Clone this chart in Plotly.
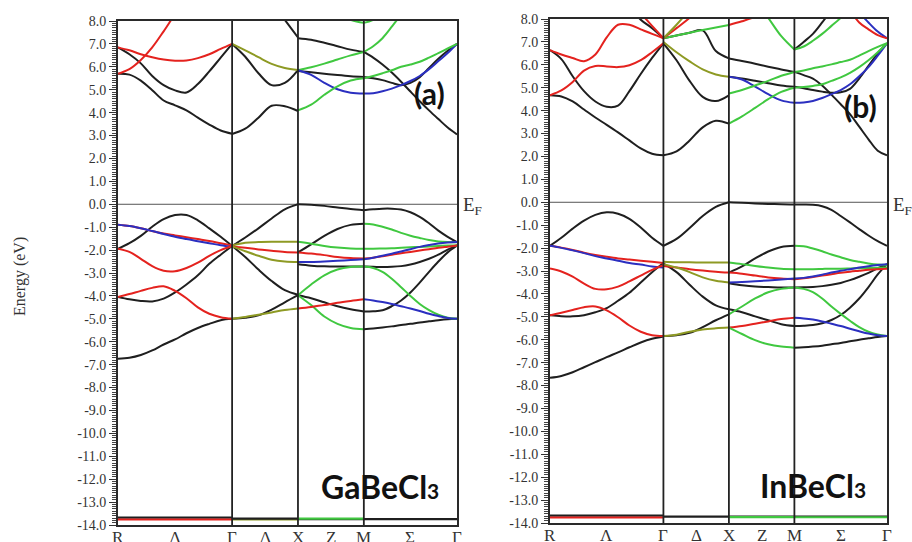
import plotly.graph_objects as go

# ---------------- k-path (cubic BZ) ----------------
SEG_NAMES = ["RG", "GX", "XM", "MG"]
SEG_LEN = {"RG": 3 ** 0.5, "GX": 1.0, "XM": 1.0, "MG": 2 ** 0.5}
K_LABELS = ["R", "Λ", "Γ", "Δ", "X", "Z", "M", "Σ", "Γ"]
FRAC_LONG = [0.0, 0.1, 0.2, 0.3, 0.4, 0.5, 0.6, 0.7, 0.8, 0.9, 1.0]
FRAC_SHORT = [0.0, 0.2, 0.4, 0.6, 0.8, 1.0]
Y_TICKS = [8, 7, 6, 5, 4, 3, 2, 1, 0, -1, -2, -3, -4, -5, -6, -7, -8, -9, -10, -11, -12, -13, -14]
Y_LABELS = ["8.0", "7.0", "6.0", "5.0", "4.0", "3.0", "2.0", "1.0", "0.0", "-1.0", "-2.0", "-3.0",
            "-4.0", "-5.0", "-6.0", "-7.0", "-8.0", "-9.0", "-10.0", "-11.0", "-12.0", "-13.0", "-14.0"]

COLORS = {"k": "#1f1f1f", "r": "#e4221e", "g": "#40c840", "b": "#2b2fc0", "o": "#8e9a24"}

# ---------------- (a) GaBeCl3 ----------------
A_RG = [
    ("k", [6.85, 6.55, 6.15, 5.6, 5.2, 4.97, 4.88, 5.25, 5.8, 6.4, 7.0]),
    ("k", [5.7, 5.66, 5.4, 4.98, 4.53, 4.32, 4.1, 3.78, 3.48, 3.22, 3.08]),
    ("r", [6.85, 6.72, 6.55, 6.42, 6.32, 6.27, 6.28, 6.38, 6.55, 6.78, 7.0]),
    ("r", [5.7, 5.9, 6.3, 6.85, 7.55, 8.3, 9.0, 9.5, 9.8, 10.0, 10.0]),
    ("k", [-1.94, -1.7, -1.38, -0.98, -0.65, -0.47, -0.47, -0.7, -1.05, -1.42, -1.82]),
    ("k", [-4.05, -4.15, -4.22, -4.24, -4.12, -3.85, -3.5, -3.1, -2.6, -2.2, -1.82]),
    ("k", [-6.74, -6.7, -6.58, -6.38, -6.12, -5.9, -5.63, -5.4, -5.22, -5.06, -5.0]),
    ("r", [-0.89, -0.95, -1.05, -1.17, -1.28, -1.36, -1.44, -1.52, -1.6, -1.7, -1.8]),
    ("b", [-0.89, -0.95, -1.05, -1.17, -1.3, -1.42, -1.52, -1.61, -1.7, -1.79, -1.86]),
    ("r", [-1.94, -2.08, -2.38, -2.7, -2.9, -2.92, -2.78, -2.55, -2.25, -2.0, -1.82]),
    ("r", [-4.05, -3.92, -3.78, -3.65, -3.58, -3.78, -4.1, -4.5, -4.78, -4.93, -5.0]),
]
A_GX = [
    ("k", [7.0, 6.44, 5.72, 5.2, 5.3, 5.86]),
    ("k", [3.07, 3.3, 3.78, 4.3, 4.28, 4.07]),
    ("k", [10.0, 10.0, 9.6, 8.8, 8.05, 7.28]),
    ("o", [7.0, 6.72, 6.42, 6.13, 5.95, 5.86]),
    ("k", [-1.82, -1.45, -1.05, -0.62, -0.22, 0.0]),
    ("k", [-1.82, -2.3, -2.85, -3.35, -3.75, -3.95]),
    ("k", [-5.0, -4.95, -4.85, -4.6, -4.28, -3.97]),
    ("o", [-1.8, -1.68, -1.65, -1.64, -1.64, -1.64]),
    ("r", [-1.84, -1.9, -1.97, -2.03, -2.08, -2.1]),
    ("o", [-1.84, -2.05, -2.25, -2.42, -2.5, -2.52]),
    ("o", [-5.0, -4.92, -4.82, -4.72, -4.62, -4.55]),
]
A_XM = [
    ("k", [7.25, 7.18, 7.05, 6.9, 6.75, 6.65]),
    ("k", [5.82, 5.76, 5.7, 5.64, 5.59, 5.56]),
    ("g", [5.85, 5.98, 6.14, 6.32, 6.5, 6.65]),
    ("b", [5.85, 5.65, 5.3, 5.02, 4.87, 4.83]),
    ("g", [4.1, 4.35, 4.78, 5.15, 5.4, 5.5]),
    ("g", [10.0, 10.0, 9.0, 8.4, 8.05, 7.92]),
    ("k", [0.0, -0.02, -0.07, -0.14, -0.21, -0.26]),
    ("k", [-2.1, -1.75, -1.38, -1.08, -0.9, -0.85]),
    ("k", [-2.62, -2.68, -2.71, -2.72, -2.72, -2.72]),
    ("k", [-3.97, -4.1, -4.28, -4.45, -4.58, -4.68]),
    ("g", [-1.64, -1.72, -1.82, -1.89, -1.93, -1.94]),
    ("r", [-2.1, -2.15, -2.22, -2.3, -2.35, -2.37]),
    ("b", [-2.52, -2.52, -2.5, -2.47, -2.43, -2.4]),
    ("g", [-3.97, -3.5, -3.1, -2.85, -2.74, -2.72]),
    ("g", [-3.97, -4.4, -4.9, -5.22, -5.4, -5.45]),
    ("r", [-4.55, -4.48, -4.4, -4.3, -4.22, -4.15]),
]
A_MG = [
    ("k", [6.65, 6.4, 6.1, 5.75, 5.35, 4.92, 4.5, 4.1, 3.72, 3.35, 3.05]),
    ("k", [5.56, 5.5, 5.42, 5.3, 5.2, 5.3, 5.55, 5.95, 6.35, 6.7, 7.0]),
    ("b", [4.83, 4.85, 4.93, 5.05, 5.2, 5.38, 5.6, 5.9, 6.25, 6.6, 7.0]),
    ("g", [5.5, 5.6, 5.72, 5.85, 6.0, 6.1, 6.22, 6.4, 6.6, 6.8, 7.0]),
    ("g", [6.65, 6.9, 7.25, 7.75, 8.3, 9.0, 9.5, 10.0, 10.0, 10.0, 10.0]),
    ("g", [7.92, 8.05, 8.4, 9.0, 9.5, 10.0, 10.0, 10.0, 10.0, 10.0, 10.0]),
    ("k", [-0.26, -0.22, -0.19, -0.19, -0.23, -0.35, -0.55, -0.83, -1.15, -1.42, -1.65]),
    ("k", [-2.72, -2.73, -2.74, -2.73, -2.7, -2.63, -2.52, -2.38, -2.2, -1.98, -1.78]),
    ("k", [-4.68, -4.67, -4.63, -4.45, -4.2, -3.85, -3.42, -2.95, -2.5, -2.1, -1.8]),
    ("k", [-5.45, -5.42, -5.38, -5.33, -5.27, -5.22, -5.16, -5.11, -5.06, -5.02, -5.0]),
    ("g", [-0.85, -0.88, -0.98, -1.1, -1.25, -1.37, -1.47, -1.56, -1.62, -1.65, -1.66]),
    ("g", [-1.94, -1.94, -1.93, -1.92, -1.9, -1.88, -1.86, -1.84, -1.82, -1.8, -1.8]),
    ("r", [-2.37, -2.33, -2.27, -2.2, -2.14, -2.08, -2.02, -1.96, -1.9, -1.85, -1.8]),
    ("b", [-2.4, -2.33, -2.25, -2.16, -2.06, -1.96, -1.86, -1.78, -1.71, -1.67, -1.65]),
    ("g", [-2.72, -2.78, -2.95, -3.25, -3.62, -4.0, -4.35, -4.62, -4.82, -4.95, -5.0]),
    ("b", [-4.15, -4.2, -4.27, -4.35, -4.45, -4.55, -4.66, -4.78, -4.88, -4.96, -5.0]),
]
A_CORE = [("k", "RG", -13.68), ("r", "RG", -13.76), ("o", "GX", -13.76), ("k", "GX", -13.72),
          ("k", "XM", -13.74), ("g", "XM", -13.72), ("k", "MG", -13.74)]

# ---------------- (b) InBeCl3 ----------------
B_RG = [
    ("k", [6.64, 6.25, 5.5, 4.85, 4.4, 4.17, 4.22, 4.85, 5.6, 6.3, 6.94]),
    ("k", [4.67, 4.62, 4.4, 4.05, 3.7, 3.38, 3.05, 2.7, 2.35, 2.12, 2.05]),
    ("k", [10.0, 10.0, 10.0, 10.0, 10.0, 10.0, 9.3, 8.55, 7.97, 7.6, 7.16]),
    ("r", [6.64, 6.45, 6.3, 6.16, 6.45, 7.2, 7.75, 7.75, 7.55, 7.35, 7.16]),
    ("r", [4.67, 4.88, 5.25, 5.75, 5.95, 5.93, 5.9, 5.98, 6.2, 6.55, 6.94]),
    ("r", [10.0, 10.0, 10.0, 10.0, 10.0, 10.0, 10.0, 8.8, 8.25, 7.7, 7.16]),
    ("k", [-1.9, -1.55, -1.15, -0.8, -0.55, -0.44, -0.5, -0.72, -1.1, -1.55, -1.9]),
    ("k", [-4.93, -4.97, -4.98, -4.93, -4.8, -4.62, -4.3, -3.95, -3.5, -3.05, -2.65]),
    ("k", [-7.66, -7.58, -7.42, -7.2, -6.98, -6.76, -6.55, -6.33, -6.12, -5.96, -5.86]),
    ("r", [-1.9, -1.98, -2.08, -2.2, -2.3, -2.38, -2.45, -2.5, -2.55, -2.6, -2.65]),
    ("b", [-1.9, -1.99, -2.1, -2.22, -2.35, -2.45, -2.55, -2.65, -2.72, -2.8, -2.85]),
    ("r", [-2.89, -3.02, -3.25, -3.55, -3.78, -3.8, -3.68, -3.45, -3.2, -2.95, -2.75]),
    ("r", [-4.93, -4.82, -4.7, -4.58, -4.55, -4.72, -5.02, -5.38, -5.65, -5.8, -5.84]),
]
B_GX = [
    ("k", [7.16, 7.28, 7.4, 7.5, 6.6, 6.28]),
    ("k", [6.94, 6.2, 5.3, 4.6, 4.42, 4.67]),
    ("k", [2.05, 2.22, 2.7, 3.27, 3.56, 3.43]),
    ("g", [7.16, 7.28, 7.4, 7.52, 7.63, 7.74]),
    ("o", [7.0, 6.55, 6.15, 5.8, 5.58, 5.48]),
    ("r", [7.16, 7.6, 8.05, 8.6, 9.0, 9.5]),
    ("o", [7.16, 7.75, 8.4, 9.0, 9.5, 10.0]),
    ("k", [-1.9, -1.6, -1.12, -0.6, -0.2, 0.0]),
    ("k", [-2.68, -3.05, -3.6, -4.12, -4.5, -4.67]),
    ("k", [-5.84, -5.8, -5.7, -5.45, -5.15, -4.89]),
    ("o", [-2.6, -2.62, -2.62, -2.63, -2.63, -2.63]),
    ("r", [-2.78, -2.85, -2.92, -2.98, -3.03, -3.07]),
    ("o", [-2.7, -2.85, -3.05, -3.28, -3.43, -3.5]),
    ("o", [-5.84, -5.78, -5.65, -5.55, -5.5, -5.47]),
]
B_XM = [
    ("k", [6.28, 6.17, 6.05, 5.92, 5.8, 5.69]),
    ("k", [5.48, 5.4, 5.3, 5.2, 5.1, 5.04]),
    ("r", [7.74, 7.9, 8.1, 8.4, 8.8, 9.2]),
    ("g", [10.0, 9.5, 8.8, 8.05, 7.25, 6.67]),
    ("b", [5.48, 5.36, 5.05, 4.72, 4.45, 4.34]),
    ("g", [4.75, 4.9, 5.1, 5.3, 5.52, 5.69]),
    ("g", [3.43, 3.75, 4.12, 4.5, 4.82, 5.0]),
    ("k", [0.0, -0.02, -0.05, -0.07, -0.09, -0.1]),
    ("k", [-3.07, -2.8, -2.45, -2.15, -1.95, -1.9]),
    ("k", [-3.53, -3.62, -3.68, -3.7, -3.72, -3.72]),
    ("k", [-4.67, -4.8, -4.98, -5.15, -5.32, -5.4]),
    ("g", [-2.63, -2.7, -2.78, -2.85, -2.9, -2.92]),
    ("r", [-3.07, -3.12, -3.2, -3.28, -3.33, -3.36]),
    ("b", [-3.5, -3.48, -3.45, -3.41, -3.37, -3.33]),
    ("g", [-4.89, -4.55, -4.2, -3.93, -3.78, -3.72]),
    ("r", [-5.47, -5.4, -5.3, -5.2, -5.1, -5.04]),
    ("g", [-5.47, -5.75, -6.02, -6.2, -6.3, -6.35]),
]
B_MG = [
    ("k", [6.67, 7.0, 7.35, 7.85, 8.4, 9.0, 9.5, 10.0, 10.0, 10.0, 10.0]),
    ("k", [5.69, 5.55, 5.4, 5.1, 4.7, 4.28, 3.85, 3.3, 2.75, 2.25, 2.05]),
    ("k", [5.04, 4.98, 4.9, 4.83, 4.78, 4.8, 4.95, 5.4, 5.95, 6.5, 6.94]),
    ("g", [6.67, 6.8, 7.05, 7.35, 7.7, 8.05, 8.5, 9.0, 9.5, 10.0, 10.0]),
    ("b", [10.0, 10.0, 10.0, 10.0, 10.0, 10.0, 9.0, 8.3, 7.85, 7.45, 7.16]),
    ("r", [10.0, 10.0, 10.0, 10.0, 10.0, 9.2, 8.4, 7.85, 7.55, 7.3, 7.16]),
    ("b", [4.34, 4.36, 4.42, 4.55, 4.72, 4.9, 5.15, 5.5, 5.9, 6.4, 6.94]),
    ("g", [5.69, 5.75, 5.85, 5.93, 6.02, 6.12, 6.22, 6.4, 6.6, 6.78, 6.94]),
    ("g", [5.0, 5.03, 5.08, 5.15, 5.3, 5.45, 5.65, 5.9, 6.2, 6.55, 6.94]),
    ("k", [-0.1, -0.1, -0.11, -0.17, -0.33, -0.6, -0.88, -1.17, -1.45, -1.7, -1.9]),
    ("k", [-3.72, -3.71, -3.7, -3.66, -3.6, -3.52, -3.4, -3.25, -3.08, -2.88, -2.7]),
    ("k", [-5.4, -5.39, -5.36, -5.28, -5.14, -4.92, -4.6, -4.2, -3.7, -3.15, -2.7]),
    ("k", [-6.35, -6.33, -6.3, -6.26, -6.2, -6.14, -6.07, -6.0, -5.94, -5.88, -5.84]),
    ("g", [-1.9, -1.92, -2.02, -2.14, -2.28, -2.4, -2.52, -2.6, -2.67, -2.72, -2.74]),
    ("g", [-2.92, -2.92, -2.92, -2.91, -2.9, -2.9, -2.89, -2.88, -2.87, -2.86, -2.85]),
    ("r", [-3.36, -3.32, -3.26, -3.2, -3.14, -3.08, -3.03, -2.99, -2.95, -2.92, -2.9]),
    ("b", [-3.33, -3.3, -3.24, -3.16, -3.07, -2.99, -2.92, -2.85, -2.79, -2.74, -2.7]),
    ("g", [-3.72, -3.78, -3.92, -4.2, -4.55, -4.87, -5.17, -5.45, -5.65, -5.77, -5.84]),
    ("b", [-5.04, -5.07, -5.12, -5.2, -5.3, -5.4, -5.52, -5.63, -5.73, -5.8, -5.84]),
]
B_CORE = [("k", "RG", -13.68), ("r", "RG", -13.76), ("k", "GX", -13.72), ("k", "XM", -13.72),
          ("g", "XM", -13.74), ("k", "MG", -13.72), ("g", "MG", -13.75)]

PANELS = [
    {"segs": {"RG": A_RG, "GX": A_GX, "XM": A_XM, "MG": A_MG}, "core": A_CORE,
     "label": "(a)", "name": "GaBeCl"},
    {"segs": {"RG": B_RG, "GX": B_GX, "XM": B_XM, "MG": B_MG}, "core": B_CORE,
     "label": "(b)", "name": "InBeCl"},
]

# ---------------- geometry (paper fractions) ----------------
W, H = 912, 542
X_DOM = [[118 / W, 457 / W], [550 / W, 887 / W]]
Y_DOM = [[1 - 525 / H, 1 - 21 / H], [1 - 523 / H, 1 - 19 / H]]

# k positions
k_start = {}
acc = 0.0
for s in SEG_NAMES:
    k_start[s] = acc
    acc += SEG_LEN[s]
K_END = acc
K_TICKS = [0.0, SEG_LEN["RG"] / 2, k_start["GX"], k_start["GX"] + 0.5, k_start["XM"],
           k_start["XM"] + 0.5, k_start["MG"], k_start["MG"] + SEG_LEN["MG"] / 2, K_END]

fig = go.Figure()
SERIF = "Liberation Serif, Times New Roman, serif"
SANS = "Lato, Open Sans, sans-serif"
annotations = []

for pi, p in enumerate(PANELS):
    xa = "x" if pi == 0 else "x2"
    ya = "y" if pi == 0 else "y2"
    # core band
    for c, s, v in p["core"]:
        fig.add_trace(go.Scatter(x=[k_start[s], k_start[s] + SEG_LEN[s]], y=[v, v], mode="lines",
                                 line=dict(color=COLORS[c], width=2.2), xaxis=xa, yaxis=ya,
                                 showlegend=False, hoverinfo="skip"))
    for s in SEG_NAMES:
        fr = FRAC_LONG if s in ("RG", "MG") else FRAC_SHORT
        bands = sorted(p["segs"][s], key=lambda b: 0 if b[0] == "k" else 1)
        for c, vals in bands:
            xs = [k_start[s] + f * SEG_LEN[s] for f in fr]
            fig.add_trace(go.Scatter(x=xs, y=vals, mode="lines",
                                     line=dict(color=COLORS[c], width=2, shape="spline", smoothing=1.0),
                                     xaxis=xa, yaxis=ya, showlegend=False, hoverinfo="skip"))
    # vertical lines at Γ, X, M
    for s in ("GX", "XM", "MG"):
        fig.add_shape(type="line", xref=xa, yref=ya + " domain", x0=k_start[s], x1=k_start[s],
                      y0=0, y1=1, line=dict(color="#222222", width=1.8), layer="above")
    # Fermi level
    fig.add_shape(type="line", xref=xa + " domain", yref=ya, x0=0, x1=1, y0=0, y1=0,
                  line=dict(color="#555555", width=1), layer="below")

    # k-point labels placed on the x scale, just below the frame
    bottom = Y_DOM[pi][0]
    for kv, lab in zip(K_TICKS, K_LABELS):
        annotations.append(dict(text=lab, x=kv, xref=xa, y=bottom - 1 / H, yref="paper",
                                xanchor="center", yanchor="top", showarrow=False,
                                font=dict(family=SERIF, size=17, color="#333333")))

    axis_x = dict(domain=X_DOM[pi], range=[0, K_END], tickmode="array", tickvals=K_TICKS,
                  showticklabels=False, ticks="", showgrid=False, zeroline=False, showline=True,
                  mirror=True, linecolor="#2a2a2a", linewidth=1.8, automargin=False, anchor=ya)
    axis_y = dict(domain=Y_DOM[pi], range=[-14, 8], tickmode="array", tickvals=Y_TICKS,
                  ticktext=Y_LABELS, ticks="outside", ticklen=7, tickwidth=1, tickcolor="#333333",
                  minor=dict(tickmode="linear", tick0=0, dtick=0.1, ticks="outside", ticklen=4,
                             tickwidth=1, tickcolor="#444444", showgrid=False),
                  showgrid=False, zeroline=False, showline=True, mirror=True, automargin=False,
                  linecolor="#2a2a2a", linewidth=1.8,
                  tickfont=dict(family=SERIF, size=14, color="#333333"), anchor=xa)
    if pi == 0:
        fig.update_layout(xaxis=axis_x, yaxis=axis_y)
    else:
        fig.update_layout(xaxis2=axis_x, yaxis2=axis_y)

annotations += [
    dict(text="Energy (eV)", x=20 / W, y=1 - 277 / H, xref="paper", yref="paper", textangle=-90,
         xanchor="center", yanchor="middle",
         showarrow=False, font=dict(family=SERIF, size=16, color="#333333")),
    dict(text="E<sub>F</sub>", x=461 / W, y=1 - 206 / H, xref="paper", yref="paper", xanchor="left",
         yanchor="middle", showarrow=False, font=dict(family=SERIF, size=19, color="#333333")),
    dict(text="E<sub>F</sub>", x=891 / W, y=1 - 206 / H, xref="paper", yref="paper", xanchor="left",
         yanchor="middle", showarrow=False, font=dict(family=SERIF, size=19, color="#333333")),
    dict(text="<b>(a)</b>", x=429 / W, y=1 - 93 / H, xref="paper", yref="paper",
         xanchor="center", yanchor="middle",
         showarrow=False, font=dict(family=SANS, size=30, color="#111111")),
    dict(text="<b>(b)</b>", x=860 / W, y=1 - 106 / H, xref="paper", yref="paper",
         xanchor="center", yanchor="middle",
         showarrow=False, font=dict(family=SANS, size=30, color="#111111")),
    dict(text="<b>" + PANELS[0]["name"] + "<span style='font-size:21px'>3</span></b>",
         x=380 / W, y=1 - 486 / H, xref="paper", yref="paper", xanchor="center", yanchor="middle",
         showarrow=False, font=dict(family=SANS, size=32, color="#111111")),
    dict(text="<b>" + PANELS[1]["name"] + "<span style='font-size:21px'>3</span></b>",
         x=813 / W, y=1 - 485 / H, xref="paper", yref="paper", xanchor="center", yanchor="middle",
         showarrow=False, font=dict(family=SANS, size=32, color="#111111")),
]

fig.update_layout(width=W, height=H, margin=dict(l=0, r=0, t=0, b=0, autoexpand=False),
                  paper_bgcolor="white", plot_bgcolor="white", annotations=annotations)

fig.write_html("out.html", config={"displayModeBar": False},
               post_script="document.body.style.margin='0';")
